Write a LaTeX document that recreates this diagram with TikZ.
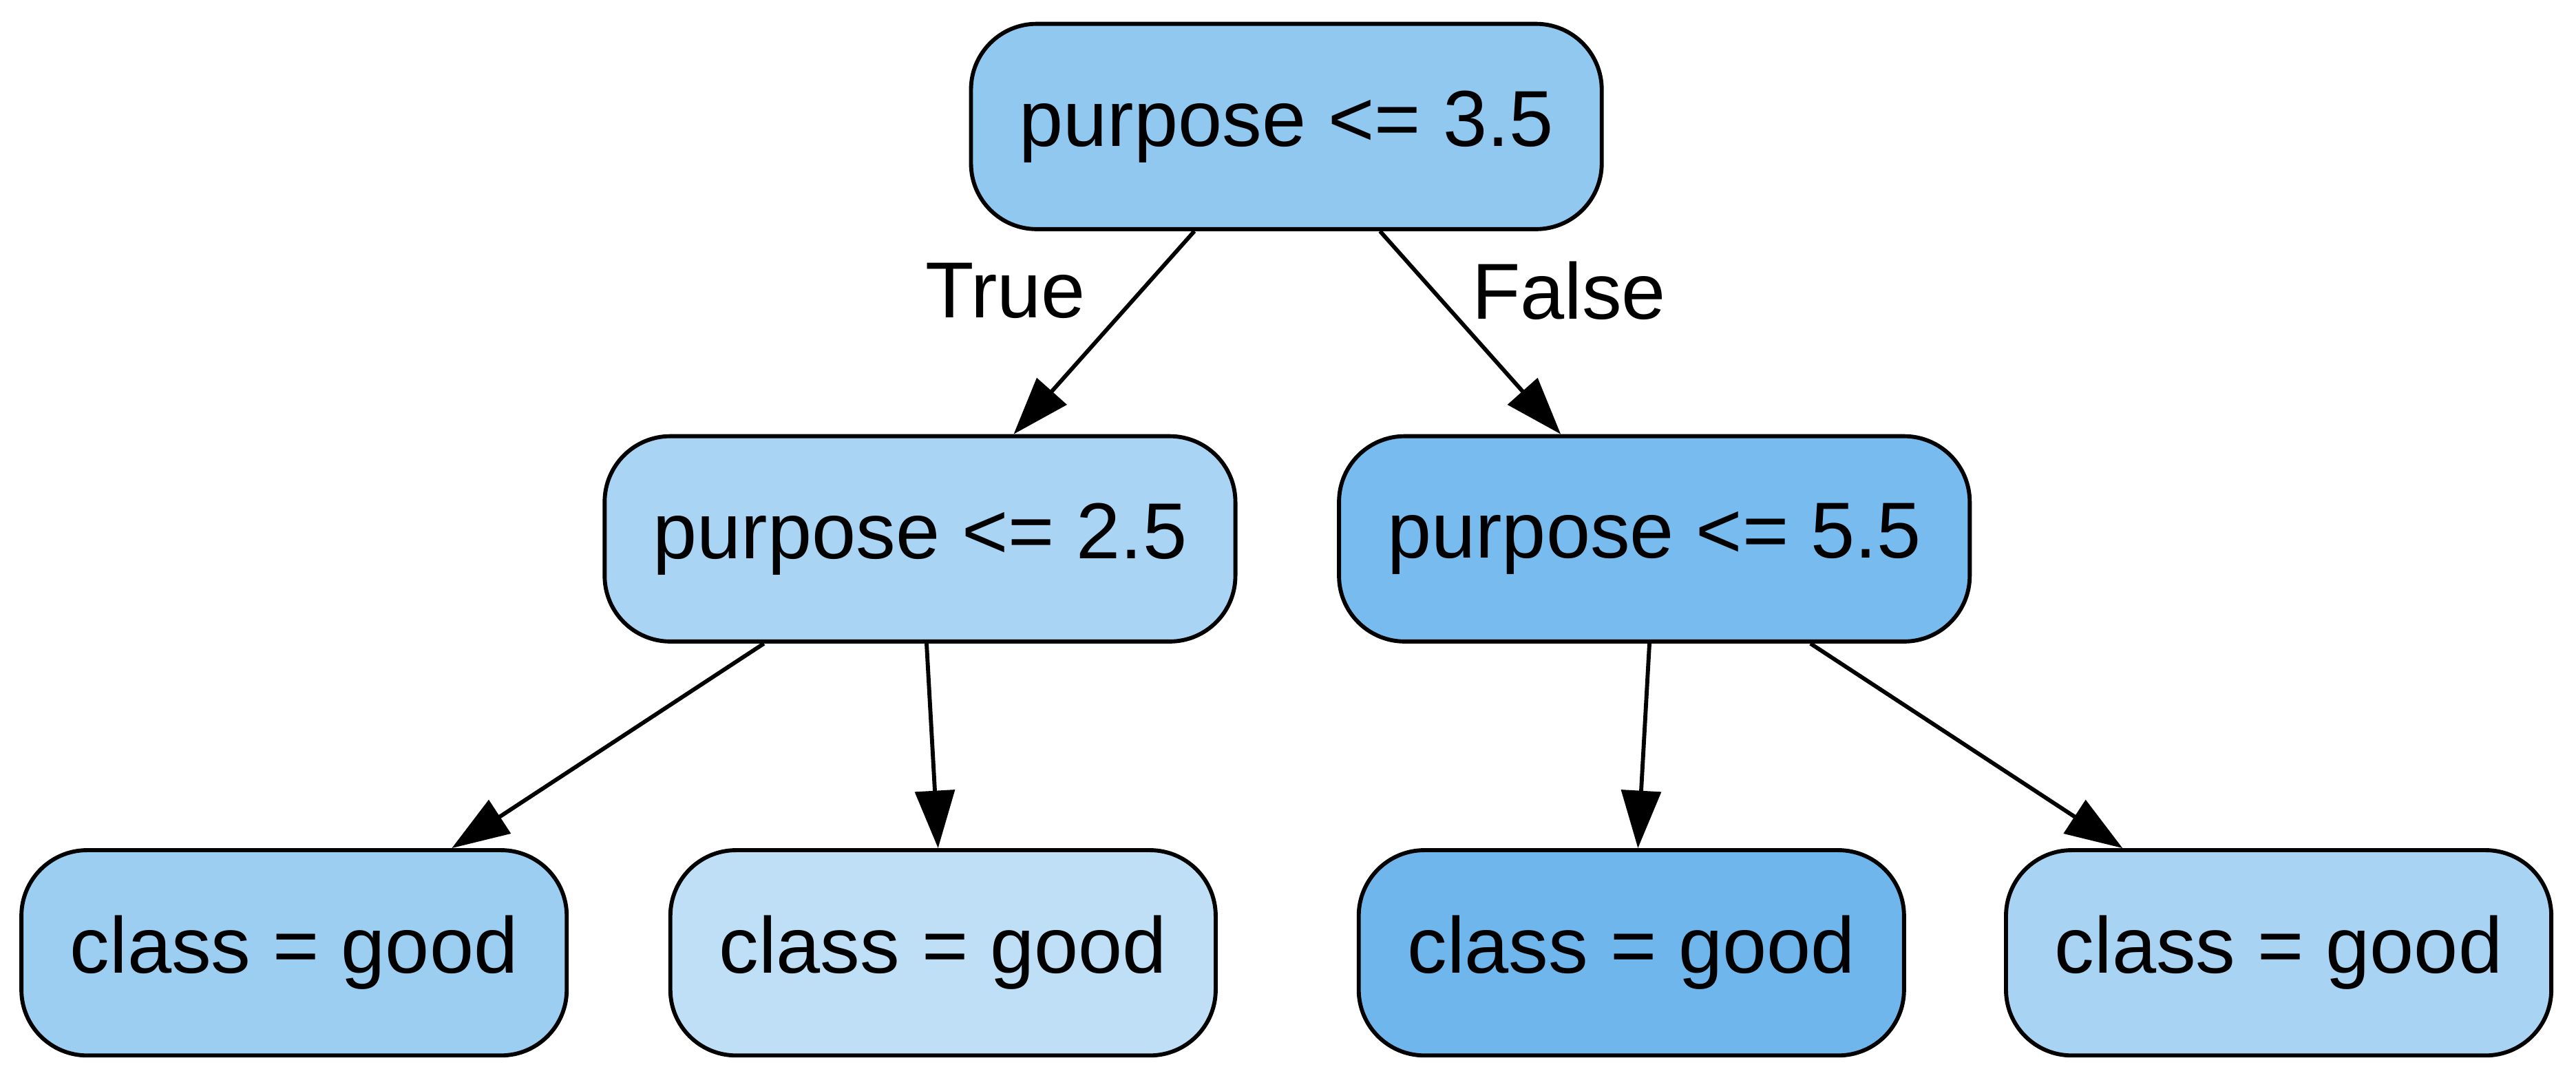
\documentclass[tikz,border=0pt]{standalone}
\usepackage{fontspec}
\setmainfont{Liberation Sans}
\usetikzlibrary{arrows.meta,calc}
\definecolor{c0}{HTML}{91C8F0}
\definecolor{c1}{HTML}{AAD4F3}
\definecolor{c2}{HTML}{78BBEE}
\definecolor{c3}{HTML}{9CCEF2}
\definecolor{c4}{HTML}{BFDFF6}
\definecolor{c5}{HTML}{6FB6EC}
\definecolor{c6}{HTML}{A8D3F3}
\begin{document}
\begin{tikzpicture}[x=0.02cm,y=-0.02cm,
 box/.style={draw,line width=1.4pt,rounded corners=0.8cm,minimum height=2.5cm,inner sep=0pt,font=\fontsize{27.5}{30}\selectfont},
 big/.style={box,minimum width=7.68cm},
 small/.style={box,minimum width=6.64cm},
 edge/.style={line width=1.4pt,-{Triangle[length=0.7cm,width=0.48cm]}},
 lab/.style={font=\fontsize{27.5}{30}\selectfont}]
\useasboundingbox (0,0) rectangle (1568,656);
\node[big,fill=c0] (root) at (783,77) {purpose <= 3.5};
\node[big,fill=c1] (l1) at (560,328) {purpose <= 2.5};
\node[big,fill=c2] (r1) at (1007,328) {purpose <= 5.5};
\node[small,fill=c3] (ll) at (179,580) {class = good};
\node[small,fill=c4] (lr) at (574,580) {class = good};
\node[small,fill=c5] (rl) at (993,580) {class = good};
\node[small,fill=c6] (rr) at (1387,580) {class = good};
\draw[edge] ($(root.south)+(-56,0)$) -- ($(l1.north)+(57,0)$);
\draw[edge] ($(root.south)+(57,0)$) -- ($(r1.north)+(-57,0)$);
\draw[edge] ($(l1.south)+(-95,0)$) -- ($(ll.north)+(96,0)$);
\draw[edge] ($(l1.south)+(4,0)$) -- ($(lr.north)+(-3,0)$);
\draw[edge] ($(r1.south)+(-3,0)$) -- ($(rl.north)+(4,0)$);
\draw[edge] ($(r1.south)+(95,0)$) -- ($(rr.north)+(-95,0)$);
\node[lab] (t) at (612,177) {True};
\node[lab] (f) at (955,177) {False};
\end{tikzpicture}
\end{document}
